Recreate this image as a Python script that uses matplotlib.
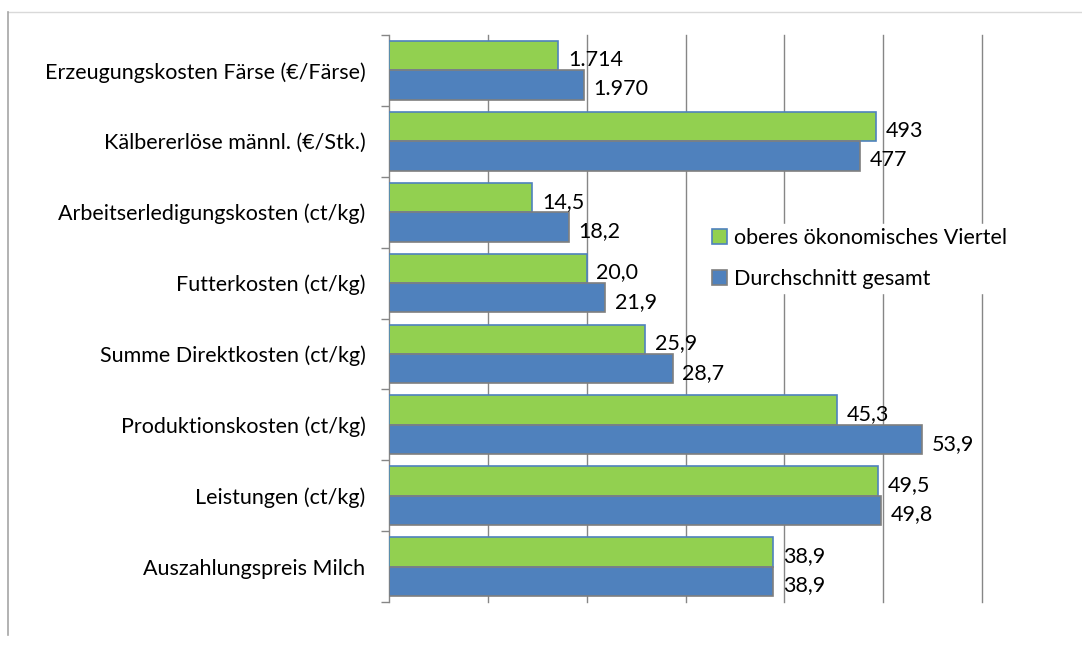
import matplotlib
matplotlib.use("Agg")
import matplotlib.pyplot as plt
from matplotlib.lines import Line2D
from matplotlib.ticker import FixedLocator, NullFormatter

plt.rcParams['font.family'] = ['Lato', 'DejaVu Sans']

categories = [
    "Erzeugungskosten Färse (€/Färse)",
    "Kälbererlöse männl. (€/Stk.)",
    "Arbeitserledigungskosten (ct/kg)",
    "Futterkosten (ct/kg)",
    "Summe Direktkosten (ct/kg)",
    "Produktionskosten (ct/kg)",
    "Leistungen (ct/kg)",
    "Auszahlungspreis Milch",
]
series_names = ["oberes ökonomisches Viertel", "Durchschnitt gesamt"]

# bar lengths as drawn on the common axis (€-values shown scaled in the chart)
top_quarter = [17.14, 49.3, 14.5, 20.0, 25.9, 45.3, 49.5, 38.9]
average = [19.70, 47.7, 18.2, 21.9, 28.7, 53.9, 49.8, 38.9]
# labels as printed next to bars
top_quarter_labels = ["1.714", "493", "14,5", "20,0", "25,9", "45,3", "49,5", "38,9"]
average_labels = ["1.970", "477", "18,2", "21,9", "28,7", "53,9", "49,8", "38,9"]

W, H = 1082, 648
fig = plt.figure(figsize=(W / 100, H / 100), dpi=100)
ax = fig.add_axes([389 / W, 1 - 602 / H, (982 - 389) / W, (602 - 35) / H])

green = "#92D050"
blue = "#4F81BD"
bh = 0.415
ys = list(range(len(categories)))
ax.barh([y - bh / 2 for y in ys], top_quarter, height=bh, color=green,
        edgecolor=blue, linewidth=1.2, zorder=3, label=series_names[0])
ax.barh([y + bh / 2 for y in ys], average, height=bh, color=blue,
        edgecolor="#7F7F7F", linewidth=1.2, zorder=3, label=series_names[1])

ax.set_xlim(0, 60)
ax.set_ylim(len(categories) - 0.5, -0.5)

FS = 15.5
FS_CAT = 15.5
for y, v, t in zip(ys, top_quarter, top_quarter_labels):
    ax.annotate(t, (v, y - bh / 2), xytext=(7, -3), textcoords="offset points",
                ha="left", va="center", fontsize=FS, color="black", zorder=4)
for y, v, t in zip(ys, average, average_labels):
    ax.annotate(t, (v, y + bh / 2), xytext=(7, -3), textcoords="offset points",
                ha="left", va="center", fontsize=FS, color="black", zorder=4)

# axes styling
for s in ["top", "right", "bottom"]:
    ax.spines[s].set_visible(False)
ax.spines["left"].set_color("#868686")
ax.spines["left"].set_linewidth(1.0)
ax.set_xticks([10, 20, 30, 40, 50, 60])
ax.xaxis.set_major_formatter(NullFormatter())
ax.tick_params(axis="x", length=0)
ax.grid(axis="x", color="#868686", linewidth=1.0, zorder=0)
for gl in ax.get_xgridlines():
    gl.set_clip_on(False)

ax.set_yticks(ys)
ax.set_yticklabels(categories, fontsize=FS_CAT)
ax.tick_params(axis="y", which="major", length=0, pad=17)
ax.yaxis.set_minor_locator(FixedLocator([y - 0.5 for y in ys] + [len(ys) - 0.5]))
ax.tick_params(axis="y", which="minor", length=6, color="#868686", width=1.0, direction="out")

leg = ax.legend(loc="upper left", bbox_to_anchor=((708 - 389) / (982 - 389), 1 - (224 - 35) / (602 - 35)),
                frameon=True, fontsize=FS_CAT, handlelength=0.7, handleheight=0.7,
                handletextpad=0.3, labelspacing=0.95, borderaxespad=0, borderpad=0.2)
leg.get_frame().set_edgecolor("white")
leg.get_frame().set_facecolor("white")
leg.get_frame().set_alpha(1)
leg.set_zorder(5)

# outer chart border
fig.add_artist(Line2D([8 / W, 1], [1 - 12 / H, 1 - 12 / H], color="#D9D9D9", linewidth=1.0))
fig.add_artist(Line2D([8 / W, 8 / W], [1 - 635 / H, 1 - 12 / H], color="#A6A6A6", linewidth=1.2))

fig.savefig("out.png", dpi=100)
